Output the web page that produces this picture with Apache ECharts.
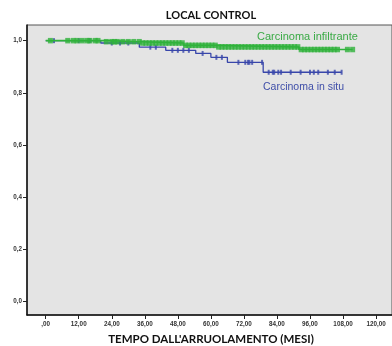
<!DOCTYPE html>
<html>
<head>
<meta charset="utf-8">
<script src="https://cdn.jsdelivr.net/npm/echarts@6/dist/echarts.min.js"></script>
<style>
html,body{margin:0;padding:0;background:#fff;}
#chart{width:392px;height:346px;}
</style>
</head>
<body>
<div id="chart"></div>
<script>
// ---- data ----
var xTicks = [0, 12, 24, 36, 48, 60, 72, 84, 96, 108, 120];
var yTicks = [0, 0.2, 0.4, 0.6, 0.8, 1.0];

var infTimes = [0, 22, 35, 50, 62, 92, 111.5];
var infSurv  = [1.0, 0.996, 0.991, 0.982, 0.976, 0.966, 0.966];
var infCensor = [1.7, 8, 10, 11.4, 13.2, 15, 16, 18, 19, 22, 24, 25, 26, 28, 30, 32,
  34, 35.2, 36.4, 37.6, 38.8, 40, 41.2, 42.4, 43.6, 44.8, 46, 47.2, 48.4, 49.6, 50.8,
  52, 53.2, 54.4, 55.6, 56.8, 58, 59.2, 60.4, 61.6, 62.8, 64, 65.2, 66.4, 67.6, 68.8,
  70, 71.2, 72.4, 73.6, 74.8, 76, 77.2, 78.4, 79.6, 80.8, 82, 83.2, 84.4, 85.6, 86.8,
  88, 89.2, 90.4, 91.6, 92.8, 94, 95.2, 96.4, 97.6, 98.8, 100, 101.2, 102.4, 103.6,
  104.8, 106, 109.6, 111.5];

var situTimes = [0, 20, 34, 43.6, 54.5, 60, 66, 79, 107.5];
var situSurv  = [1.0, 0.991, 0.975, 0.963, 0.951, 0.936, 0.917, 0.879, 0.879];
var situCensor = [3, 12, 16, 24, 27, 30, 38, 40, 46, 48, 50, 52, 57, 62, 64,
  70, 72.5, 73.5, 74, 75, 78.6, 81, 82.5, 83, 84.5, 85.5, 89, 92.6, 96, 97.4, 99,
  102.5, 105, 107.5];

var infLabel = 'Carcinoma infiltrante';
var situLabel = 'Carcinoma in situ';
var titleText = 'LOCAL CONTROL';
var xName = "TEMPO DALL'ARRUOLAMENTO (MESI)";

// ---- helpers ----
function pairs(t, s) { return t.map(function (v, i) { return [v, s[i]]; }); }
function survAt(t, times, surv) {
  var v = surv[0];
  for (var i = 0; i < times.length; i++) { if (times[i] <= t) v = surv[i]; }
  return v;
}
function censorPts(c, times, surv) { return c.map(function (t) { return [t, survAt(t, times, surv)]; }); }

var GREEN = '#2fb23b';
var BLUE = '#3846aa';

var chart = echarts.init(document.getElementById('chart'), null, {renderer: 'canvas'});
chart.setOption({
  animation: false,
  backgroundColor: '#ffffff',
  grid: {
    left: 27, top: 25, right: 0, bottom: 31,
    show: true, backgroundColor: '#e4e4e4', borderColor: '#555', borderWidth: 1
  },
  xAxis: {
    type: 'value', min: -6.8, max: 125.8,
    splitLine: {show: false},
    axisLine: {show: true, onZero: false, lineStyle: {color: '#111', width: 1.5}},
    axisTick: {show: true, length: 4, customValues: xTicks, lineStyle: {color: '#222', width: 1}},
    axisLabel: {
      customValues: xTicks, margin: 6,
      fontFamily: 'Liberation Sans', fontSize: 6.3, fontWeight: 'bold', color: '#333',
      formatter: function (v) { var s = v.toFixed(2).replace('.', ','); return v === 0 ? ',00' : s; }
    }
  },
  yAxis: {
    type: 'value', min: -0.051, max: 1.060,
    splitLine: {show: false},
    axisLine: {show: true, onZero: false, lineStyle: {color: '#111', width: 1.5}},
    axisTick: {show: true, length: 4, customValues: yTicks, lineStyle: {color: '#222', width: 1}},
    axisLabel: {
      customValues: yTicks, margin: 5,
      fontFamily: 'Liberation Sans', fontSize: 6.3, fontWeight: 'bold', color: '#333',
      formatter: function (v) { return v.toFixed(1).replace('.', ','); }
    }
  },
  series: [
    {type: 'line', step: 'end', data: pairs(situTimes, situSurv), showSymbol: false,
     lineStyle: {color: BLUE, width: 1.3}, z: 3},
    {type: 'scatter', data: censorPts(situCensor, situTimes, situSurv),
     symbol: 'rect', symbolSize: [2, 5], itemStyle: {color: BLUE}, z: 4},
    {type: 'line', step: 'end', data: pairs(infTimes, infSurv), showSymbol: false,
     lineStyle: {color: GREEN, width: 1.6}, z: 5},
    {type: 'scatter', data: censorPts(infCensor, infTimes, infSurv),
     symbol: 'rect', symbolSize: [5, 5.5], itemStyle: {color: GREEN}, z: 6}
  ],
  graphic: [
    {type: 'text', x: 211, y: 15, style: {text: titleText, fill: '#111', font: 'bold 11px Lato',
      textAlign: 'center', textVerticalAlign: 'middle'}},
    {type: 'text', x: 211, y: 339, style: {text: xName, fill: '#111', font: 'bold 11.5px Lato',
      textAlign: 'center', textVerticalAlign: 'middle'}},
    {type: 'text', x: 257, y: 37, style: {text: infLabel, fill: '#3aaa45', font: '11px "Liberation Sans"',
      textAlign: 'left', textVerticalAlign: 'middle'}},
    {type: 'text', x: 263, y: 87, style: {text: situLabel, fill: '#3f4ea8', font: '10.5px "Liberation Sans"',
      textAlign: 'left', textVerticalAlign: 'middle'}}
  ]
});
</script>
</body>
</html>
